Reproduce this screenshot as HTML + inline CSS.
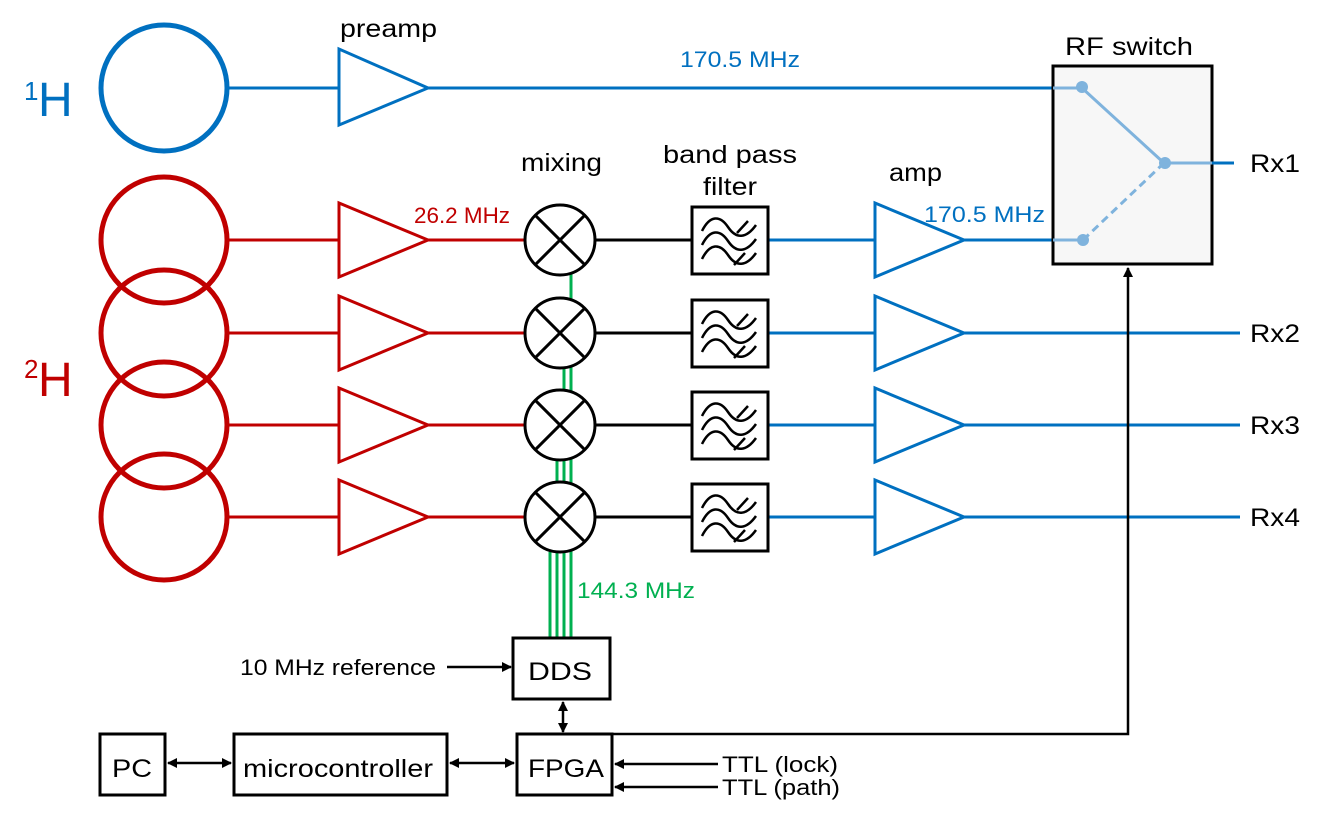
<!DOCTYPE html>
<html><head><style>body{margin:0;background:#fff}svg{display:block}text{font-family:"Liberation Sans",Arial,sans-serif}</style></head><body>
<svg width="1320" height="816" viewBox="0 0 1320 816">
<defs>
<marker id="ah" markerWidth="10" markerHeight="10" refX="9" refY="5" orient="auto-start-reverse" markerUnits="userSpaceOnUse"><path d="M0,0 L10,5 L0,10 z" fill="#000"/></marker>
<g id="filt"><rect x="0" y="0" width="76" height="67" fill="#fff" stroke="#000" stroke-width="3"/>
<g fill="none" stroke="#000" stroke-width="2.5">
<path d="M10,24 C18,8 28,8 36,20 C44,32 54,32 64,18"/>
<path d="M10,38 C18,22 28,22 36,34 C44,46 54,46 64,32"/>
<path d="M10,52 C18,36 28,36 36,48 C44,60 54,60 64,46"/>
<path d="M45,26 L56,14 M42,58 L53,46"/></g></g>
<g id="mix"><circle r="35" fill="#fff" stroke="#000" stroke-width="3"/><path d="M-24.7,-24.7 L24.7,24.7 M24.7,-24.7 L-24.7,24.7" stroke="#000" stroke-width="3"/></g>
</defs>
<!-- labels 1H 2H -->
<text x="24" y="100" font-size="26" fill="#0070c0">1</text><text x="38" y="116" font-size="48" fill="#0070c0">H</text>
<text x="24" y="378" font-size="26" fill="#c00000">2</text><text x="38" y="396" font-size="48" fill="#c00000">H</text>
<circle cx="164" cy="88" r="63" fill="none" stroke="#0070c0" stroke-width="5"/>
<line x1="228" y1="88" x2="338" y2="88" stroke="#0070c0" stroke-width="3"/>
<polygon points="339,49 339,125 428,88" fill="#fff" stroke="#0070c0" stroke-width="3"/>
<line x1="428" y1="88" x2="1082" y2="88" stroke="#0070c0" stroke-width="3"/>
<text x="680" y="67" font-size="22" fill="#0070c0" textLength="120" lengthAdjust="spacingAndGlyphs">170.5 MHz</text>
<text x="340" y="37" font-size="25" textLength="97" lengthAdjust="spacingAndGlyphs">preamp</text>
<g fill="none" stroke="#c00000" stroke-width="5">
<circle cx="164" cy="240" r="63"/><circle cx="164" cy="333" r="63"/><circle cx="164" cy="425" r="63"/><circle cx="164" cy="517" r="63"/>
</g>
<g stroke="#00b050" stroke-width="3">
<line x1="571" y1="272" x2="571" y2="637"/><line x1="564" y1="366" x2="564" y2="637"/><line x1="557" y1="458" x2="557" y2="637"/><line x1="550" y1="552" x2="550" y2="637"/>
</g>
<text x="577" y="598" font-size="22" fill="#00b050" textLength="118" lengthAdjust="spacingAndGlyphs">144.3 MHz</text>
<g>
<line x1="228" y1="240" x2="338" y2="240" stroke="#c00000" stroke-width="3"/><polygon points="339,203 339,277 428,240" fill="#fff" stroke="#c00000" stroke-width="3"/><line x1="428" y1="240" x2="525" y2="240" stroke="#c00000" stroke-width="3"/>
<line x1="595" y1="240" x2="692" y2="240" stroke="#000" stroke-width="3"/>
<line x1="768" y1="240" x2="874" y2="240" stroke="#0070c0" stroke-width="3"/><polygon points="875,203 875,277 964,240" fill="#fff" stroke="#0070c0" stroke-width="3"/><line x1="964" y1="240" x2="1083" y2="240" stroke="#0070c0" stroke-width="3"/>
<use href="#mix" x="560" y="240"/><use href="#filt" x="692" y="207"/>
</g>
<g>
<line x1="228" y1="333" x2="338" y2="333" stroke="#c00000" stroke-width="3"/><polygon points="339,296 339,370 428,333" fill="#fff" stroke="#c00000" stroke-width="3"/><line x1="428" y1="333" x2="525" y2="333" stroke="#c00000" stroke-width="3"/>
<line x1="595" y1="333" x2="692" y2="333" stroke="#000" stroke-width="3"/>
<line x1="768" y1="333" x2="874" y2="333" stroke="#0070c0" stroke-width="3"/><polygon points="875,296 875,370 964,333" fill="#fff" stroke="#0070c0" stroke-width="3"/><line x1="964" y1="333" x2="1240" y2="333" stroke="#0070c0" stroke-width="3"/>
<use href="#mix" x="560" y="333"/><use href="#filt" x="692" y="300"/>
</g>
<g>
<line x1="228" y1="425" x2="338" y2="425" stroke="#c00000" stroke-width="3"/><polygon points="339,388 339,462 428,425" fill="#fff" stroke="#c00000" stroke-width="3"/><line x1="428" y1="425" x2="525" y2="425" stroke="#c00000" stroke-width="3"/>
<line x1="595" y1="425" x2="692" y2="425" stroke="#000" stroke-width="3"/>
<line x1="768" y1="425" x2="874" y2="425" stroke="#0070c0" stroke-width="3"/><polygon points="875,388 875,462 964,425" fill="#fff" stroke="#0070c0" stroke-width="3"/><line x1="964" y1="425" x2="1240" y2="425" stroke="#0070c0" stroke-width="3"/>
<use href="#mix" x="560" y="425"/><use href="#filt" x="692" y="392"/>
</g>
<g>
<line x1="228" y1="517" x2="338" y2="517" stroke="#c00000" stroke-width="3"/><polygon points="339,480 339,554 428,517" fill="#fff" stroke="#c00000" stroke-width="3"/><line x1="428" y1="517" x2="525" y2="517" stroke="#c00000" stroke-width="3"/>
<line x1="595" y1="517" x2="692" y2="517" stroke="#000" stroke-width="3"/>
<line x1="768" y1="517" x2="874" y2="517" stroke="#0070c0" stroke-width="3"/><polygon points="875,480 875,554 964,517" fill="#fff" stroke="#0070c0" stroke-width="3"/><line x1="964" y1="517" x2="1240" y2="517" stroke="#0070c0" stroke-width="3"/>
<use href="#mix" x="560" y="517"/><use href="#filt" x="692" y="484"/>
</g>
<text x="414" y="223" font-size="22" fill="#c00000" textLength="96" lengthAdjust="spacingAndGlyphs">26.2 MHz</text>
<text x="924" y="222" font-size="22" fill="#0070c0" textLength="121" lengthAdjust="spacingAndGlyphs">170.5 MHz</text>
<text x="521" y="171" font-size="25" textLength="81" lengthAdjust="spacingAndGlyphs">mixing</text>
<text x="663" y="163" font-size="25" textLength="134" lengthAdjust="spacingAndGlyphs">band pass</text>
<text x="703" y="195" font-size="25" textLength="54" lengthAdjust="spacingAndGlyphs">filter</text>
<text x="889" y="181" font-size="25" textLength="53" lengthAdjust="spacingAndGlyphs">amp</text>
<rect x="1053" y="66" width="159" height="198" fill="#f7f7f7" stroke="#000" stroke-width="3"/>
<text x="1065" y="55" font-size="25" textLength="128" lengthAdjust="spacingAndGlyphs">RF switch</text>
<line x1="1053" y1="88" x2="1082" y2="88" stroke="#7fb3dd" stroke-width="3"/>
<line x1="1053" y1="240" x2="1083" y2="240" stroke="#7fb3dd" stroke-width="3"/>
<line x1="1082" y1="88" x2="1164" y2="163" stroke="#7fb3dd" stroke-width="3"/>
<line x1="1083" y1="240" x2="1164" y2="163" stroke="#7fb3dd" stroke-width="3" stroke-dasharray="8,5"/>
<line x1="1164" y1="163" x2="1212" y2="163" stroke="#7fb3dd" stroke-width="3"/>
<line x1="1212" y1="163" x2="1234" y2="163" stroke="#0070c0" stroke-width="3"/>
<circle cx="1082" cy="87" r="6" fill="#7fb3dd"/><circle cx="1083" cy="240" r="6" fill="#7fb3dd"/><circle cx="1165" cy="163" r="6" fill="#7fb3dd"/>
<g font-size="25"><text x="1250" y="172" textLength="50" lengthAdjust="spacingAndGlyphs">Rx1</text><text x="1250" y="342" textLength="50" lengthAdjust="spacingAndGlyphs">Rx2</text><text x="1250" y="434" textLength="50" lengthAdjust="spacingAndGlyphs">Rx3</text><text x="1250" y="526" textLength="50" lengthAdjust="spacingAndGlyphs">Rx4</text></g>
<rect x="513" y="638" width="97" height="61" fill="#fff" stroke="#000" stroke-width="3"/>
<text x="528" y="680" font-size="25" textLength="64" lengthAdjust="spacingAndGlyphs">DDS</text>
<text x="240" y="675" font-size="22" textLength="196" lengthAdjust="spacingAndGlyphs">10 MHz reference</text>
<line x1="447" y1="667" x2="511" y2="667" stroke="#000" stroke-width="2.5" marker-end="url(#ah)"/>
<line x1="563" y1="702" x2="563" y2="732" stroke="#000" stroke-width="2.5" marker-start="url(#ah)" marker-end="url(#ah)"/>
<rect x="517" y="734" width="95" height="61" fill="#fff" stroke="#000" stroke-width="3"/>
<text x="528" y="777" font-size="25" textLength="76" lengthAdjust="spacingAndGlyphs">FPGA</text>
<rect x="234" y="734" width="213" height="61" fill="#fff" stroke="#000" stroke-width="3"/>
<text x="243" y="777" font-size="25" textLength="190" lengthAdjust="spacingAndGlyphs">microcontroller</text>
<rect x="100" y="734" width="65" height="61" fill="#fff" stroke="#000" stroke-width="3"/>
<text x="112" y="777" font-size="25" textLength="40" lengthAdjust="spacingAndGlyphs">PC</text>
<line x1="168" y1="763" x2="231" y2="763" stroke="#000" stroke-width="2.5" marker-start="url(#ah)" marker-end="url(#ah)"/>
<line x1="450" y1="763" x2="514" y2="763" stroke="#000" stroke-width="2.5" marker-start="url(#ah)" marker-end="url(#ah)"/>
<polyline points="612,734 1128,734 1128,268" fill="none" stroke="#000" stroke-width="2.5" marker-end="url(#ah)"/>
<line x1="718" y1="764" x2="615" y2="764" stroke="#000" stroke-width="2.5" marker-end="url(#ah)"/>
<line x1="718" y1="787" x2="615" y2="787" stroke="#000" stroke-width="2.5" marker-end="url(#ah)"/>
<text x="722" y="772" font-size="22" textLength="116" lengthAdjust="spacingAndGlyphs">TTL (lock)</text>
<text x="722" y="795" font-size="22" textLength="118" lengthAdjust="spacingAndGlyphs">TTL (path)</text>
</svg>
</body></html>
